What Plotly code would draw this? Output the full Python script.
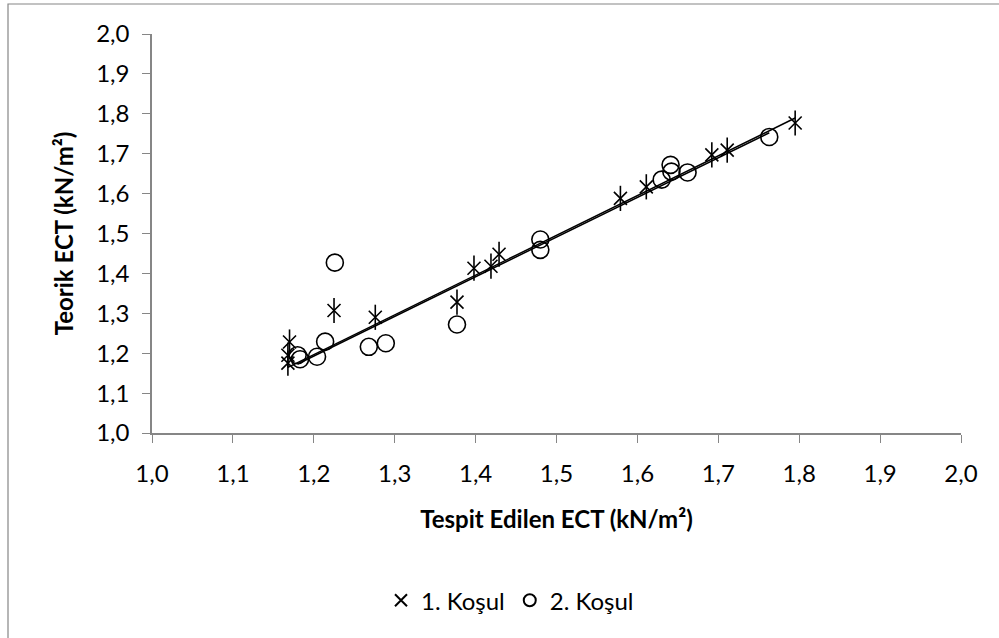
import numpy as np
import plotly.graph_objects as go

# 1. Koşul (asterisk markers)
k1_x = [1.168, 1.170, 1.168, 1.225, 1.276, 1.377, 1.398, 1.419, 1.429, 1.579, 1.611, 1.692, 1.711, 1.795]
k1_y = [1.175, 1.228, 1.195, 1.307, 1.290, 1.328, 1.413, 1.418, 1.448, 1.588, 1.617, 1.697, 1.709, 1.777]

# 2. Koşul (circle markers)
k2_x = [1.180, 1.183, 1.204, 1.214, 1.226, 1.268, 1.289, 1.377, 1.480, 1.480, 1.630, 1.641, 1.642, 1.662, 1.763]
k2_y = [1.195, 1.185, 1.191, 1.229, 1.427, 1.216, 1.225, 1.272, 1.485, 1.459, 1.635, 1.672, 1.655, 1.653, 1.742]

# Linear trendline slopes (intercept 0)
trend_slopes = [0.9969, 0.9940]

x_ticks = [1.0, 1.1, 1.2, 1.3, 1.4, 1.5, 1.6, 1.7, 1.8, 1.9, 2.0]
tick_text = ["1,0", "1,1", "1,2", "1,3", "1,4", "1,5", "1,6", "1,7", "1,8", "1,9", "2,0"]

FONT = "Lato"
AXIS_GRAY = "#868686"
FS = 24

fig = go.Figure()

def trend(xs, slope):
    x0, x1 = min(xs), max(xs)
    return [x0, x1], [slope * x0, slope * x1]

for xs, s in [(k1_x, trend_slopes[0]), (k2_x, trend_slopes[1])]:
    tx, ty = trend(xs, s)
    fig.add_trace(go.Scatter(x=tx, y=ty, mode="lines", line=dict(color="black", width=1.5),
                             showlegend=False, hoverinfo="skip"))

fig.add_trace(go.Scatter(x=k1_x, y=k1_y, mode="markers", name="1. Koşul",
                         marker=dict(symbol="x-thin-open", size=13, color="black",
                                     line=dict(color="black", width=1.6))))
fig.add_trace(go.Scatter(x=k1_x, y=k1_y, mode="markers", showlegend=False,
                         marker=dict(symbol="line-ns-open", size=18, color="black",
                                     line=dict(color="black", width=1.6))))
fig.add_trace(go.Scatter(x=k2_x, y=k2_y, mode="markers", name="2. Koşul",
                         marker=dict(symbol="circle-open", size=17, color="black",
                                     line=dict(color="black", width=1.6))))

fig.update_layout(
    width=999, height=638,
    margin=dict(l=152, r=38, t=34, b=205),
    paper_bgcolor="white", plot_bgcolor="white",
    font=dict(family=FONT, size=FS, color="black"),
    xaxis=dict(range=[1.0, 2.0], tickvals=x_ticks, ticktext=tick_text,
               showgrid=False, zeroline=False, showline=True, linecolor=AXIS_GRAY, linewidth=1.5,
               ticks="outside", ticklen=8, tickcolor=AXIS_GRAY, tickwidth=1.2,
               ticklabelstandoff=10, tickfont=dict(size=FS),
               title=dict(text="<b>Tespit Edilen ECT (kN/m²)</b>", font=dict(size=FS), standoff=26)),
    yaxis=dict(range=[1.0, 2.0], tickvals=x_ticks, ticktext=tick_text,
               showgrid=False, zeroline=False, showline=True, linecolor=AXIS_GRAY, linewidth=1.5,
               ticks="outside", ticklen=8, tickcolor=AXIS_GRAY, tickwidth=1.2,
               ticklabelstandoff=8, tickfont=dict(size=FS),
               title=dict(text="<b>Teorik ECT (kN/m²)</b>", font=dict(size=FS), standoff=16)),
    legend=dict(orientation="h", x=(510 - 152) / 809, xanchor="center", y=-0.42, yanchor="middle",
                font=dict(size=FS), itemsizing="constant", itemwidth=30,
                bgcolor="rgba(0,0,0,0)"),
    shapes=[dict(type="rect", xref="paper", yref="paper",
                 x0=(8 - 152) / 809, x1=(1010 - 152) / 809,
                 y0=(433 - 650) / 399, y1=(433 - 4) / 399,
                 line=dict(color=AXIS_GRAY, width=1.2), fillcolor="rgba(0,0,0,0)", layer="below")],
)

fig.write_html("out.html")
